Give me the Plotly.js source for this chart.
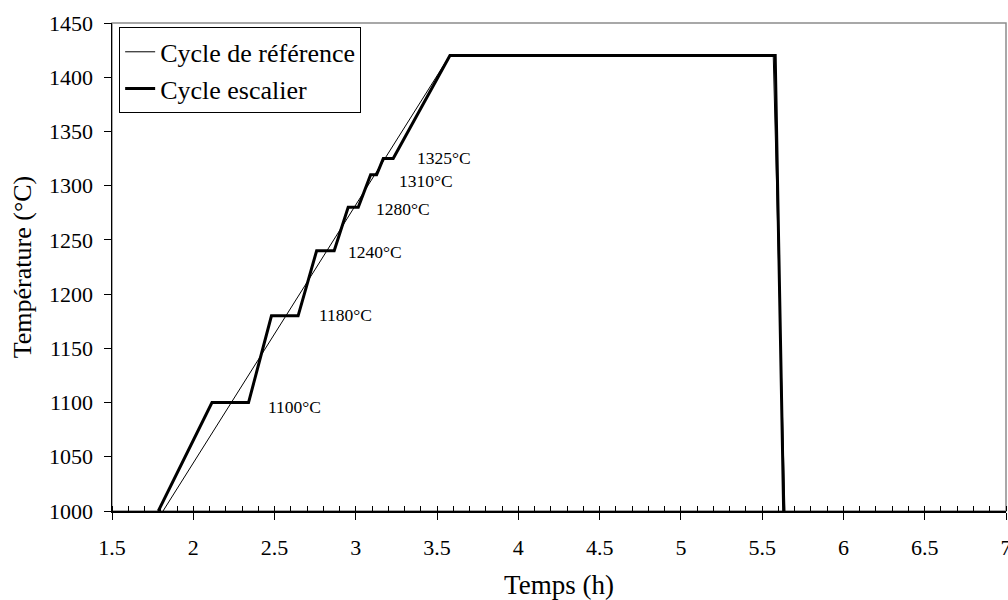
<!DOCTYPE html>
<html>
<head>
<meta charset="utf-8">
<script src="https://cdn.plot.ly/plotly-3.0.1.min.js"></script>
<style>html,body{margin:0;padding:0;background:#fff;}#chart{width:1008px;height:600px;}</style>
</head>
<body>
<div id="chart"></div>
<script>
// Reference cycle (thin line)
var refTime = [1.814, 3.578, 5.568, 5.64];
var refTemp = [1000, 1420, 1420, 1000];
// Staircase cycle (thick line)
var stairTime = [1.785, 2.115, 2.34, 2.481, 2.645, 2.759, 2.867, 2.953, 3.015, 3.091, 3.128, 3.169, 3.230, 3.579, 5.58, 5.632];
var stairTemp = [1000, 1100, 1100, 1180, 1180, 1240, 1240, 1280, 1280, 1310, 1310, 1325, 1325, 1420, 1420, 1000];
// Step plateaus (labelled)
var stepTemps = [1100, 1180, 1240, 1280, 1310, 1325];
var stepLabels = ["1100°C", "1180°C", "1240°C", "1280°C", "1310°C", "1325°C"];
var xTickVals = [1.5, 2, 2.5, 3, 3.5, 4, 4.5, 5, 5.5, 6, 6.5, 7];
var yTickVals = [1000, 1050, 1100, 1150, 1200, 1250, 1300, 1350, 1400, 1450];

// label placement (pixel offsets from plateau end)
var labelDx = [17, 19, 12, 16, 20, 22];
var labelDy = [-4, 1, -1, -2, -6, 1];

var serif = "Liberation Serif, Times New Roman, serif";

var traces = [
  {x: refTime, y: refTemp, mode: "lines", name: "Cycle de référence",
   line: {color: "#000", width: 1}},
  {x: stairTime, y: stairTemp, mode: "lines", name: "Cycle escalier",
   line: {color: "#000", width: 3}}
];

// label each plateau at its end point
var annotations = stepTemps.map(function (t, i) {
  var idx = stairTemp.lastIndexOf(t);
  return {x: stairTime[idx], y: t, xref: "x", yref: "y", text: stepLabels[i],
    showarrow: false, xanchor: "left", yanchor: "middle", xshift: labelDx[i], yshift: labelDy[i],
    font: {family: serif, size: 17.5, color: "#000"}};
});

var layout = {
  width: 1008, height: 600,
  margin: {l: 112, r: 2, t: 23, b: 89},
  paper_bgcolor: "#fff", plot_bgcolor: "#fff",
  showlegend: true,
  legend: {x: 0.008, y: 0.991, xanchor: "left", yanchor: "top",
    bgcolor: "#fff", bordercolor: "#000", borderwidth: 1,
    font: {family: serif, size: 26, color: "#000"}, tracegroupgap: 0},
  xaxis: {range: [1.5, 7], tickvals: xTickVals, ticks: "outside", ticklen: 7, tickwidth: 1,
    tickcolor: "#000", showline: true, linecolor: "#000", linewidth: 1.5,
    showgrid: false, zeroline: false, ticklabelstandoff: 9, ticklabeloverflow: "allow",
    minor: {dtick: 0.1, ticks: "inside", ticklen: 5, tickwidth: 1, tickcolor: "#000", showgrid: false},
    tickfont: {family: serif, size: 22, color: "#000"},
    title: {text: "Temps (h)", font: {family: serif, size: 27, color: "#000"}, standoff: 22}},
  yaxis: {range: [1000, 1450], tickvals: yTickVals, ticks: "outside", ticklen: 7, tickwidth: 1,
    tickcolor: "#000", showline: true, linecolor: "#000", linewidth: 1.5,
    showgrid: false, zeroline: false, ticklabelstandoff: 6,
    tickfont: {family: serif, size: 22, color: "#000"},
    title: {text: "Température (°C)", font: {family: serif, size: 26, color: "#000"}, standoff: 10}},
  shapes: [{type: "rect", xref: "paper", yref: "paper", x0: 0, x1: 1, y0: 0, y1: 1,
    line: {color: "#8c8c8c", width: 1.5}, layer: "below"}],
  annotations: annotations
};

Plotly.newPlot("chart", traces, layout, {displayModeBar: false, staticPlot: true});
</script>
</body>
</html>
